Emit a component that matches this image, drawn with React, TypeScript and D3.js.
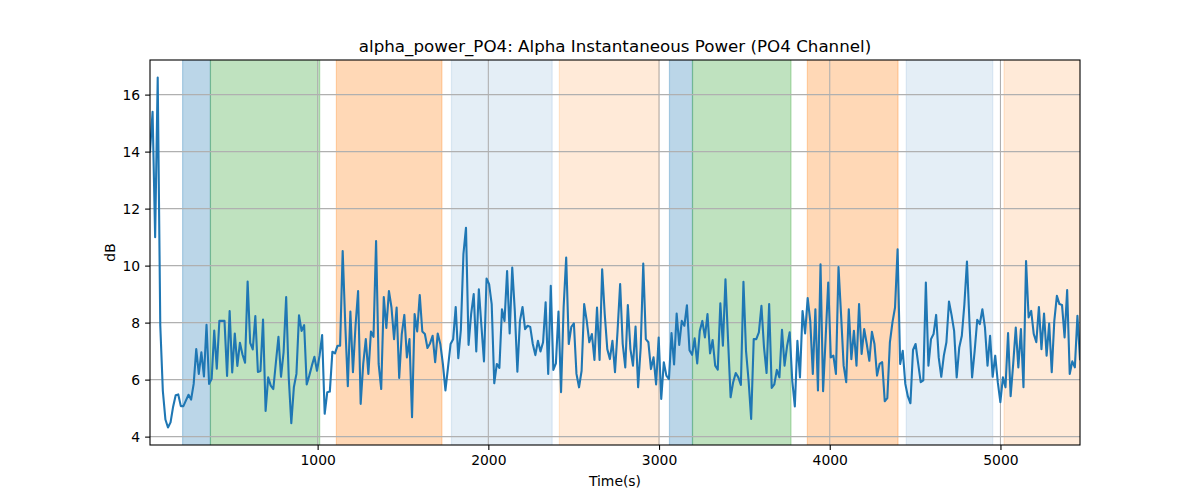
import { useRef, useEffect } from 'react';
import * as d3 from 'd3';

// sampling of the recording (first and last sample, seconds)
const START_TIME = 18;
const END_TIME = 5466;

// alpha power (dB), one value per sample
const powerDb = [
  14.0, 15.4, 11.0, 16.6, 7.9, 5.6, 4.6, 4.32, 4.5, 5.05, 5.45, 5.48, 5.07, 5.07, 5.27, 5.47, 5.3, 5.85, 7.07, 6.2,
  6.96, 6.11, 7.92, 5.85, 6.03, 7.72, 6.38, 8.06, 8.06, 8.06, 6.13, 8.41, 6.25, 7.62, 6.48, 7.29, 6.88, 6.59, 9.44, 7.29,
  7.06, 8.23, 6.27, 6.3, 8.11, 4.9,
  6.08, 5.79, 5.67, 6.6, 7.5, 6.1, 6.96, 8.9, 6.08, 4.47, 5.73, 6.2, 8.26, 7.71, 7.91, 5.83, 6.14, 6.49, 6.8, 6.31,
  6.84, 7.56, 4.8, 5.56, 5.58, 6.98, 6.92, 7.19, 7.19, 10.51, 7.95, 5.77, 8.39, 6.26, 7.89, 9.11, 5.15, 6.55, 7.42, 6.2,
  7.69, 7.5, 10.86,
  6.55, 5.67, 8.9, 7.81, 9.11, 8.53, 7.42, 8.53, 6.06, 7.6, 8.27, 6.78, 7.42, 4.68, 8.3, 7.69, 8.97, 7.69, 7.6, 7.11,
  7.27, 7.54, 6.61, 7.62, 7.25, 6.55, 5.62, 6.43, 7.25, 7.42, 8.55, 6.75, 7.74, 10.4, 11.33, 7.22, 8.3, 9.0, 6.99, 9.17,
  7.89, 6.64, 9.55, 9.35, 8.65,
  5.87, 6.55, 6.41, 8.47, 8.06, 9.81, 7.62, 9.93, 8.41, 6.28, 8.06, 8.55, 7.77, 7.89, 7.85, 7.25, 6.86, 7.36, 6.99, 7.31,
  8.71, 6.2, 9.29, 6.34, 6.57, 8.39, 5.56, 8.53, 10.28, 7.25, 7.85, 7.97, 6.2, 5.73, 6.31, 8.65, 8.06, 7.31, 7.6, 6.69,
  8.53, 6.69, 9.87, 8.3, 7.07,
  6.72, 7.36, 6.26, 7.71, 9.35, 7.25, 6.43, 8.62, 7.07, 6.49, 7.86, 5.73, 7.13, 10.07, 7.42, 7.31, 6.37, 6.78, 5.83, 7.48,
  5.32, 6.61, 6.14, 6.02, 7.63, 6.53, 8.32, 7.22, 8.06, 7.89, 8.61, 7.03, 6.87, 7.45, 6.57, 7.71, 8.06, 7.48, 8.3, 6.92,
  7.39, 6.49, 6.35, 8.68, 7.19,
  9.52, 7.4, 5.38, 5.91, 6.23, 6.08, 5.81, 9.43, 7.01, 5.96, 4.62, 7.42, 7.42, 7.66, 8.59, 7.13, 6.23, 8.65, 5.71, 5.83,
  6.34, 6.08, 7.75, 6.49, 7.19, 7.66, 5.96, 5.06, 7.36, 6.08, 8.41, 7.62, 8.86, 8.06, 6.2, 8.47, 5.62, 10.05, 5.59, 7.48,
  9.41, 6.78, 6.84, 6.2, 9.95,
  8.27, 6.49, 5.91, 8.47, 6.72, 7.71, 6.49, 8.65, 6.9, 7.77, 7.25, 6.66, 7.68, 7.25, 6.14, 6.55, 6.61, 5.24, 5.35, 7.31,
  8.01, 8.53, 10.57, 6.55, 7.01, 5.85, 5.41, 5.17, 7.04, 7.25, 6.57, 5.91, 5.97, 9.41, 6.49, 7.42, 7.6, 8.27, 6.78, 6.1,
  6.84, 7.31, 8.74, 8.27, 7.71,
  6.08, 7.13, 7.54, 8.65, 10.14, 7.95, 6.08, 7.01, 8.1, 7.95, 8.47, 7.83, 6.49, 7.54, 6.1, 6.84, 5.91, 5.21, 6.08, 5.73,
  7.63, 5.42, 6.55, 7.83, 6.43, 7.77, 5.73, 10.16, 8.18, 8.41, 7.6, 7.31, 8.55, 7.07, 8.32, 6.84, 7.97, 6.26, 8.06, 8.94,
  8.65, 8.62, 7.48, 9.14, 6.2, 6.64, 6.43, 8.24, 6.72,
];

// experiment phases (seconds)
const phaseStart = [209, 372, 1110, 1784, 2416, 3061, 3196, 3869, 4448, 5021];
const phaseEnd = [372, 1012, 1728, 2374, 3000, 3196, 3773, 4400, 4955, 5480];
const phaseKind = ['blue', 'green', 'orange', 'lightblue', 'lightorange', 'blue', 'green', 'orange', 'lightblue', 'lightorange'];

const xTicks = [1000, 2000, 3000, 4000, 5000];
const yTicks = [4, 6, 8, 10, 12, 14, 16];

const phaseStyle: Record<string, { color: string; opacity: number }> = {
  blue: { color: '#1f77b4', opacity: 0.3 },
  green: { color: '#2ca02c', opacity: 0.3 },
  orange: { color: '#ff7f0e', opacity: 0.3 },
  lightblue: { color: '#1f77b4', opacity: 0.12 },
  lightorange: { color: '#ff7f0e', opacity: 0.16 },
};

const WIDTH = 1200;
const HEIGHT = 500;
const FONT = 'DejaVu Sans, sans-serif';

export default function App() {
  const svgRef = useRef<SVGSVGElement>(null);

  useEffect(() => {
    if (!svgRef.current) return;
    const svg = d3.select(svgRef.current);
    svg.selectAll('*').remove();

    const margin = { top: 60, right: 120, bottom: 55, left: 150 };
    const width = WIDTH - margin.left - margin.right;
    const height = HEIGHT - margin.top - margin.bottom;

    const step = (END_TIME - START_TIME) / (powerDb.length - 1);
    const data = powerDb.map((v, i) => ({ t: START_TIME + i * step, v }));

    const xScale = d3.scaleLinear().domain([START_TIME, END_TIME]).range([0, width]);
    const [lo, hi] = d3.extent(powerDb) as [number, number];
    const pad = (hi - lo) * 0.05;
    const yScale = d3.scaleLinear().domain([lo - pad, hi + pad]).range([height, 0]);

    svg.append('rect').attr('width', WIDTH).attr('height', HEIGHT).attr('fill', 'white');

    svg.append('defs')
      .append('clipPath')
      .attr('id', 'plot-clip')
      .append('rect')
      .attr('width', width)
      .attr('height', height);

    const g = svg.append('g').attr('transform', `translate(${margin.left},${margin.top})`);
    const plot = g.append('g').attr('clip-path', 'url(#plot-clip)');

    // phase shading
    phaseStart.forEach((s, i) => {
      const st = phaseStyle[phaseKind[i]];
      plot.append('rect')
        .attr('x', xScale(s))
        .attr('y', -2)
        .attr('width', xScale(phaseEnd[i]) - xScale(s))
        .attr('height', height + 4)
        .attr('fill', st.color)
        .attr('fill-opacity', st.opacity)
        .attr('stroke', st.color)
        .attr('stroke-opacity', st.opacity)
        .attr('stroke-width', 1.2);
    });

    // grid
    xTicks.forEach(t => {
      plot.append('line')
        .attr('x1', xScale(t)).attr('x2', xScale(t))
        .attr('y1', 0).attr('y2', height)
        .attr('stroke', '#b0b0b0').attr('stroke-width', 1.1);
    });
    yTicks.forEach(t => {
      plot.append('line')
        .attr('x1', 0).attr('x2', width)
        .attr('y1', yScale(t)).attr('y2', yScale(t))
        .attr('stroke', '#b0b0b0').attr('stroke-width', 1.1);
    });

    const line = d3.line<{ t: number; v: number }>()
      .x(d => xScale(d.t))
      .y(d => yScale(d.v));

    plot.append('path')
      .datum(data)
      .attr('fill', 'none')
      .attr('stroke', '#1f77b4')
      .attr('stroke-width', 2.1)
      .attr('stroke-linejoin', 'round')
      .attr('stroke-linecap', 'square')
      .attr('d', line);

    // axes
    const xAxis = g.append('g')
      .attr('transform', `translate(0,${height})`)
      .call(d3.axisBottom(xScale).tickValues(xTicks).tickSize(4.9).tickPadding(4.9).tickFormat(d3.format('d')));
    const yAxis = g.append('g')
      .call(d3.axisLeft(yScale).tickValues(yTicks).tickSize(4.9).tickPadding(4.9).tickFormat(d3.format('d')));

    [xAxis, yAxis].forEach(ax => {
      ax.select('.domain').remove();
      ax.selectAll('line').attr('stroke', 'black').attr('stroke-width', 1.1);
      ax.selectAll('text')
        .attr('fill', 'black')
        .style('font-family', FONT)
        .style('font-size', '13.9px');
    });

    // frame
    g.append('rect')
      .attr('width', width)
      .attr('height', height)
      .attr('fill', 'none')
      .attr('stroke', 'black')
      .attr('stroke-width', 1.1);

    svg.append('text')
      .attr('x', margin.left + width / 2)
      .attr('y', margin.top - 8.5)
      .attr('text-anchor', 'middle')
      .style('font-family', FONT)
      .style('font-size', '16.7px')
      .text('alpha_power_PO4: Alpha Instantaneous Power (PO4 Channel)');

    svg.append('text')
      .attr('x', margin.left + width / 2)
      .attr('y', 486)
      .attr('text-anchor', 'middle')
      .style('font-family', FONT)
      .style('font-size', '13.9px')
      .text('Time(s)');

    svg.append('text')
      .attr('transform', `translate(115,${margin.top + height / 2}) rotate(-90)`)
      .attr('text-anchor', 'middle')
      .style('font-family', FONT)
      .style('font-size', '13.9px')
      .text('dB');
  }, []);

  return (
    <svg
      ref={svgRef}
      width={WIDTH}
      height={HEIGHT}
      style={{ position: 'absolute', left: 0, top: 0 }}
    />
  );
}
